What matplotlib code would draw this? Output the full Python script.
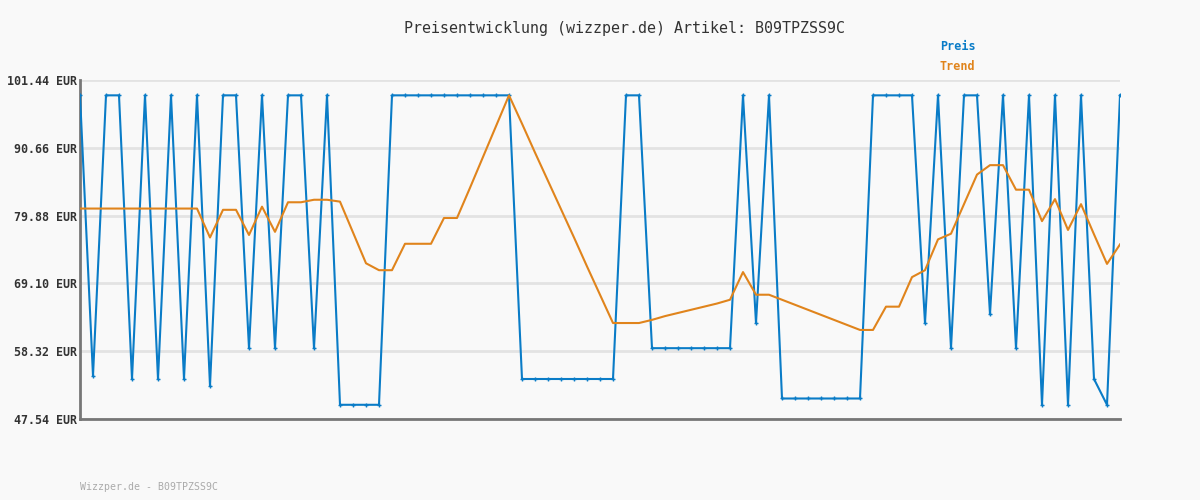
import matplotlib.pyplot as plt

# price per sample (index = sample number)
preis = [
    99.0, 54.4, 99.0, 99.0, 53.9, 99.0, 53.9, 99.0, 53.9, 99.0,
    52.8, 99.0, 99.0, 58.8, 99.0, 58.8, 99.0, 99.0, 58.8, 99.0,
    49.8, 49.8, 49.8, 49.8, 99.0, 99.0, 99.0, 99.0, 99.0, 99.0,
    99.0, 99.0, 99.0, 99.0, 53.9, 53.9, 53.9, 53.9, 53.9, 53.9,
    53.9, 53.9, 99.0, 99.0, 58.8, 58.8, 58.8, 58.8, 58.8, 58.8,
    58.8, 99.0, 62.8, 99.0, 50.8, 50.8, 50.8, 50.8, 50.8, 50.8,
    50.8, 99.0, 99.0, 99.0, 99.0, 62.8, 99.0, 58.8, 99.0, 99.0,
    64.2, 99.0, 58.8, 99.0, 49.8, 99.0, 49.8, 99.0, 53.9, 49.8,
    99.0,
]
trend = [
    81.0, 81.0, 81.0, 81.0, 81.0, 81.0, 81.0, 81.0, 81.0, 81.0,
    76.4, 80.8, 80.8, 76.8, 81.3, 77.3, 82.0, 82.0, 82.4, 82.4,
    82.1, 77.2, 72.3, 71.2, 71.2, 75.4, 75.4, 75.4, 79.5, 79.5,
    84.3, 89.2, 94.1, 99.0, 94.5, 89.9, 85.4, 80.9, 76.4, 71.8,
    67.3, 62.8, 62.8, 62.8, 63.3, 63.9, 64.4, 64.9, 65.4, 65.9,
    66.5, 70.9, 67.3, 67.3, 66.5, 65.7, 64.9, 64.1, 63.3, 62.5,
    61.7, 61.7, 65.4, 65.4, 70.1, 71.2, 76.1, 77.0, 81.7, 86.4,
    87.9, 87.9, 84.0, 84.0, 79.0, 82.5, 77.6, 81.7, 76.9, 72.2,
    75.3,
]
y_ticks = [47.54, 58.32, 69.10, 79.88, 90.66, 101.44]

blue = "#0a7cc7"
orange = "#e0841c"
bg = "#f9f9f9"
mono = "DejaVu Sans Mono"

fig = plt.figure(figsize=(12, 5), dpi=100, facecolor=bg)
ax = fig.add_axes([80 / 1200, 81 / 500, 1040 / 1200, 339 / 500], facecolor=bg)

x = list(range(len(preis)))
ax.plot(x, preis, color=blue, lw=1.5, marker="+", ms=3, mew=1.0, zorder=3)
ax.plot(x, trend, color=orange, lw=1.5, zorder=4)

ax.set_xlim(0, len(preis) - 1)
ax.set_ylim(y_ticks[0], y_ticks[-1])
ax.set_yticks(y_ticks)
ax.set_yticklabels([f"{v:.2f} EUR" for v in y_ticks], family=mono,
                   fontsize=8.4, fontweight="bold", color="#333333")
ax.set_xticks([])
ax.tick_params(axis="y", length=0, pad=2)
ax.grid(axis="y", color="#e3e3e3", lw=2, zorder=0)
ax.set_axisbelow(True)

for s in ["top", "right"]:
    ax.spines[s].set_visible(False)
for s in ["left", "bottom"]:
    ax.spines[s].set_color("#777777")
    ax.spines[s].set_linewidth(2)

fig.text(624 / 1200, 1 - 28 / 500, "Preisentwicklung (wizzper.de) Artikel: B09TPZSS9C",
         ha="center", va="center", family=mono, fontsize=10.8, color="#333333")
fig.text(940 / 1200, 1 - 47 / 500, "Preis", ha="left", va="center",
         family=mono, fontsize=8.5, fontweight="bold", color=blue)
fig.text(940 / 1200, 1 - 67 / 500, "Trend", ha="left", va="center",
         family=mono, fontsize=8.5, fontweight="bold", color=orange)
fig.text(80 / 1200, 1 - 487 / 500, "Wizzper.de - B09TPZSS9C", ha="left", va="center",
         family=mono, fontsize=7.1, color="#aaaaaa")

plt.savefig("out.png", dpi=100, facecolor=bg)
